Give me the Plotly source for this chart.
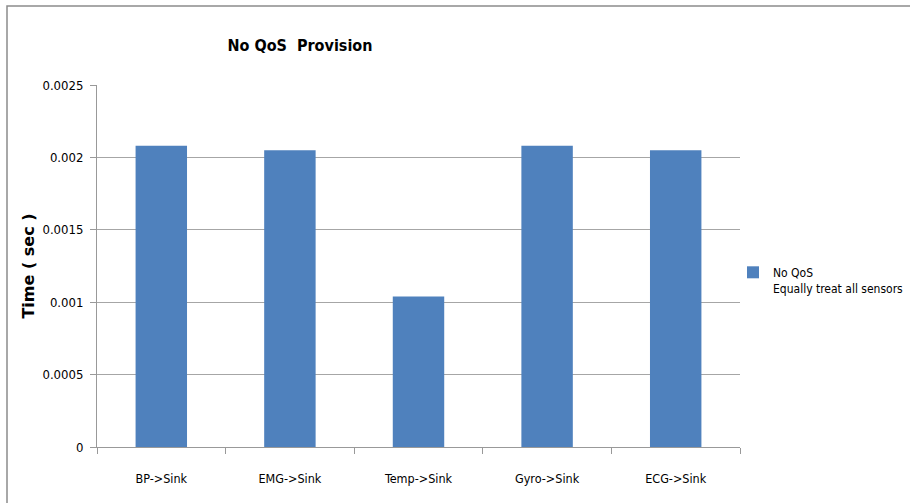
import plotly.graph_objects as go

# Transmission time from each sensor to the sink, without QoS provisioning
links = ["BP->Sink", "EMG->Sink", "Temp->Sink", "Gyro->Sink", "ECG->Sink"]
time_sec = [0.00208, 0.00205, 0.00104, 0.00208, 0.00205]
y_ticks = [0, 0.0005, 0.001, 0.0015, 0.002, 0.0025]
y_tick_text = ["0", "0.0005", "0.001", "0.0015", "0.002", "0.0025"]

narrow = "DejaVu Sans Condensed, Liberation Sans Narrow, Roboto, sans-serif"

L, R, T, B = 97, 170, 85, 56
PW, PH = 910 - L - R, 503 - T - B

fig = go.Figure()
fig.add_trace(go.Bar(
    x=links,
    y=time_sec,
    name="No QoS<br>Equally treat all sensors",
    marker=dict(color="#4F81BD", line=dict(width=0)),
    width=0.4,
))

fig.update_layout(
    width=910,
    height=503,
    paper_bgcolor="white",
    plot_bgcolor="white",
    margin=dict(l=L, r=R, t=T, b=B, autoexpand=False),
    title=dict(
        text="<b>No QoS  Provision</b>",
        x=300 / 910, xanchor="center",
        y=1 - 45 / 503, yanchor="middle",
        font=dict(family=narrow, size=16, color="black"),
    ),
    showlegend=True,
    legend=dict(
        x=(733 - L) / PW, xanchor="left",
        y=1 - (258 - T) / PH, yanchor="top",
        font=dict(family=narrow, size=12, color="black"),
        itemwidth=30,
        valign="top",
        bgcolor="rgba(0,0,0,0)",
    ),
    font=dict(family=narrow, size=13, color="black"),
)

fig.update_xaxes(
    showline=True, linecolor="#999999", linewidth=1,
    ticks="outside", tickson="boundaries", ticklen=6, tickcolor="#999999",
    showgrid=False,
    ticklabelstandoff=20,
    tickfont=dict(family=narrow, size=12.5, color="black"),
)
fig.update_yaxes(
    range=[0, 0.0025],
    tickvals=y_ticks, ticktext=y_tick_text,
    showline=True, linecolor="#999999", linewidth=1,
    ticks="outside", ticklen=6, tickcolor="#999999",
    showgrid=True, gridcolor="#a6a6a6", gridwidth=1,
    zeroline=False,
    ticklabelstandoff=4,
    tickfont=dict(family=narrow, size=13, color="black"),
    title=dict(
        text="<b>Time ( sec )</b>",
        font=dict(family="DejaVu Sans, Verdana, sans-serif", size=16, color="black"),
        standoff=3,
    ),
)

# Outer chart frame
fig.add_shape(
    type="rect", xref="paper", yref="paper",
    x0=(7 - L) / PW, x1=(930 - L) / PW,
    y0=-(B + 20) / PH, y1=1 + (T - 6) / PH,
    line=dict(color="#8c8c8c", width=1.5),
    fillcolor="rgba(0,0,0,0)",
    layer="below",
)

fig.write_html("out.html")
